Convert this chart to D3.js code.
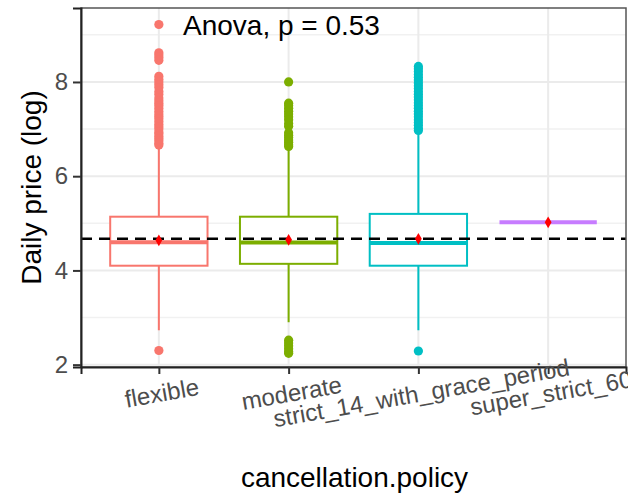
<!DOCTYPE html>
<html>
<head>
<meta charset="utf-8">
<script src="https://cdn.jsdelivr.net/npm/d3@7"></script>
<style>
  html, body { margin: 0; padding: 0; background: #fff; }
  svg { display: block; font-family: "Liberation Sans", Arial, sans-serif; }
</style>
</head>
<body>
<svg id="chart" width="628" height="496"></svg>
<script>
// Daily price (log) by cancellation policy
const categories = ["flexible", "moderate", "strict_14_with_grace_period", "super_strict_60"];
const q1 = [4.10, 4.14, 4.10, 5.02];
const medians = [4.60, 4.59, 4.58, 5.02];
const q3 = [5.14, 5.14, 5.20, 5.02];
const whiskerLow = [2.73, 2.90, 2.73, 5.02];
const whiskerHigh = [6.62, 6.58, 6.93, 5.02];
const groupMeans = [4.64, 4.65, 4.67, 5.02];
const overallMean = 4.67;
const outliersFlexible = [9.22, 8.62, 8.57, 8.52, 8.46, 8.12, 8.06, 8.0, 7.94, 7.88, 7.8, 7.74,
  7.66, 7.6, 7.55, 7.5, 7.44, 7.38, 7.32, 7.27, 7.22, 7.16, 7.1, 7.05, 7.0, 6.94, 6.9, 6.85,
  6.8, 6.75, 6.7, 6.66, 2.30];
const outliersModerate = [8.0, 7.55, 7.5, 7.44, 7.38, 7.32, 7.26, 7.2, 7.12, 7.06, 6.92, 6.87,
  6.82, 6.77, 6.72, 6.67, 6.63, 2.52, 2.46, 2.40, 2.34, 2.28, 2.24];
const outliersStrict = [8.33, 8.28, 8.22, 8.16, 8.1, 8.04, 7.98, 7.92, 7.86, 7.8, 7.74, 7.68,
  7.62, 7.56, 7.5, 7.44, 7.38, 7.32, 7.26, 7.2, 7.14, 7.08, 7.02, 6.97, 2.29];
const outliersSuperStrict = [];
const yTicks = [2, 4, 6, 8];
const yMinor = [3, 5, 7, 9];
const testLabel = "Anova, p = 0.53";
const xTitle = "cancellation.policy";
const yTitle = "Daily price (log)";

const outliers = [outliersFlexible, outliersModerate, outliersStrict, outliersSuperStrict];
const groups = categories.map((c, i) => ({
  name: c, q1: q1[i], med: medians[i], q3: q3[i],
  lo: whiskerLow[i], hi: whiskerHigh[i], mean: groupMeans[i], out: outliers[i]
}));

const palette = ["#F8766D", "#7CAE00", "#00BFC4", "#C77CFF"];
const panel = { left: 81, right: 626, top: 8, bottom: 367 };

const svg = d3.select("#chart");
const x = d3.scalePoint().domain(categories).range([panel.left, panel.right]).padding(0.6);
const y = d3.scaleLinear().domain([1.95, 9.57]).range([panel.bottom, panel.top]);
const color = d3.scaleOrdinal().domain(categories).range(palette);
const boxW = x.step() * 0.75;

// grid
const grid = svg.append("g");
grid.selectAll("line.minor").data(yMinor).join("line")
  .attr("x1", panel.left).attr("x2", panel.right)
  .attr("y1", d => y(d)).attr("y2", d => y(d))
  .attr("stroke", "#f1f1f1").attr("stroke-width", 1.5);
grid.selectAll("line.major").data(yTicks).join("line")
  .attr("x1", panel.left).attr("x2", panel.right)
  .attr("y1", d => y(d)).attr("y2", d => y(d))
  .attr("stroke", "#ebebeb").attr("stroke-width", 2);
grid.selectAll("line.vx").data(categories).join("line")
  .attr("x1", d => x(d)).attr("x2", d => x(d))
  .attr("y1", panel.top).attr("y2", panel.bottom)
  .attr("stroke", "#ebebeb").attr("stroke-width", 2);

// boxplots
const g = svg.append("g").selectAll("g").data(groups).join("g")
  .attr("stroke", d => color(d.name));

g.append("line")
  .attr("x1", d => x(d.name)).attr("x2", d => x(d.name))
  .attr("y1", d => y(d.q3)).attr("y2", d => y(d.hi))
  .attr("stroke-width", 2);
g.append("line")
  .attr("x1", d => x(d.name)).attr("x2", d => x(d.name))
  .attr("y1", d => y(d.q1)).attr("y2", d => y(d.lo))
  .attr("stroke-width", 2);
g.append("rect")
  .attr("x", d => x(d.name) - boxW / 2).attr("width", boxW)
  .attr("y", d => y(d.q3)).attr("height", d => y(d.q1) - y(d.q3))
  .attr("fill", "#fff").attr("stroke-width", 2);
g.append("line")
  .attr("x1", d => x(d.name) - boxW / 2).attr("x2", d => x(d.name) + boxW / 2)
  .attr("y1", d => y(d.med)).attr("y2", d => y(d.med))
  .attr("stroke-width", 4);
g.each(function (d) {
  d3.select(this).selectAll("circle").data(d.out).join("circle")
    .attr("cx", x(d.name)).attr("cy", v => y(v)).attr("r", 4.6)
    .attr("fill", color(d.name)).attr("stroke", "none");
});

// overall mean reference line
svg.append("line")
  .attr("x1", panel.left).attr("x2", panel.right)
  .attr("y1", y(overallMean)).attr("y2", y(overallMean))
  .attr("stroke", "#000").attr("stroke-width", 2.5)
  .attr("stroke-dasharray", "11,7");

// group means
svg.append("g").selectAll("path").data(groups).join("path")
  .attr("transform", d => `translate(${x(d.name)},${y(d.mean)})`)
  .attr("d", d3.symbol().type(d3.symbolDiamond).size(40))
  .attr("fill", "#ff0000");

// panel border and axes
svg.append("rect")
  .attr("x", panel.left).attr("y", panel.top)
  .attr("width", panel.right - panel.left).attr("height", panel.bottom - panel.top)
  .attr("fill", "none").attr("stroke", "#555").attr("stroke-width", 1.5);

const yAxis = svg.append("g").attr("transform", `translate(${panel.left},0)`)
  .call(d3.axisLeft(y).tickValues(yTicks).tickSize(8).tickPadding(5).tickFormat(d3.format("d")));
yAxis.select(".domain").attr("stroke", "#222").attr("stroke-width", 2);
yAxis.selectAll(".tick line").attr("stroke", "#333").attr("stroke-width", 2);
yAxis.selectAll(".tick text").attr("fill", "#4d4d4d")
  .style("font-size", "24px").style("font-family", "Liberation Sans, Arial, sans-serif");

const xAxis = svg.append("g").attr("transform", `translate(0,${panel.bottom})`)
  .call(d3.axisBottom(x).tickSize(7).tickFormat(""));
xAxis.select(".domain").attr("stroke", "#222").attr("stroke-width", 2);
xAxis.selectAll(".tick line").attr("stroke", "#333").attr("stroke-width", 2);

// rotated category labels
svg.append("g").selectAll("text").data(categories).join("text")
  .attr("transform", d => `translate(${x(d) + 3},393) rotate(-10)`)
  .attr("text-anchor", "middle").attr("dy", "0.35em")
  .attr("fill", "#4d4d4d").style("font-size", "24px")
  .text(d => d);

// titles
svg.append("text")
  .attr("x", (panel.left + panel.right) / 2 + 1).attr("y", 487)
  .attr("text-anchor", "middle").style("font-size", "28px").attr("fill", "#000")
  .text(xTitle);
svg.append("text")
  .attr("transform", `translate(41,${(panel.top + panel.bottom) / 2}) rotate(-90)`)
  .attr("text-anchor", "middle").style("font-size", "28px").attr("fill", "#000")
  .text(yTitle);

// test annotation
svg.append("text")
  .attr("x", 183).attr("y", 35)
  .style("font-size", "28px").attr("fill", "#000")
  .text(testLabel);
</script>
</body>
</html>
